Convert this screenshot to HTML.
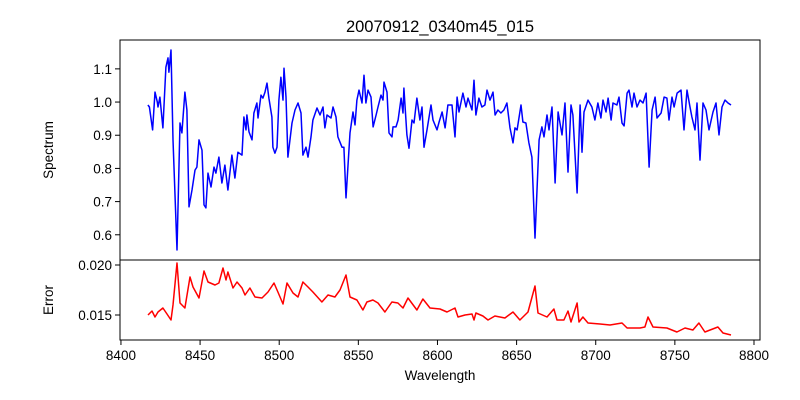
<!DOCTYPE html>
<html><head><meta charset="utf-8"><style>
body{margin:0;background:#fff}
svg{display:block;font-family:"Liberation Sans","DejaVu Sans",sans-serif}
</style></head><body>
<svg id="chart" width="800" height="400" viewBox="0 0 800 400">
<rect width="800" height="400" fill="#fff"/>
<text x="440" y="32" font-size="16.5" text-anchor="middle">20070912_0340m45_015</text>
<g id="topg"></g><g id="botg"></g>
<text x="440" y="380" font-size="13.5" text-anchor="middle">Wavelength</text>
<text transform="translate(53,150) rotate(-90)" font-size="13.5" text-anchor="middle">Spectrum</text>
<text transform="translate(53,300) rotate(-90)" font-size="13.5" text-anchor="middle">Error</text>
</svg>
<script>
const specWave=[8417,8418,8420,8421.5,8423,8423.4,8424.6,8426.5,8428.4,8429.7,8430.3,8431.6,8432.9,8435.4,8437.3,8438.5,8440.4,8441.7,8443,8444.9,8446.8,8448,8449.3,8451.2,8452.5,8453.7,8455,8456.9,8458.8,8460,8461.9,8463.8,8465.7,8467.6,8470.1,8472,8473.9,8476.5,8477.7,8479,8479.6,8480.9,8482.8,8484,8485.9,8486.6,8488.5,8489.7,8491,8492.3,8493.5,8495.4,8496,8497.3,8498.6,8499.8,8501.1,8502.4,8503,8504.3,8505.5,8508.1,8510,8511.9,8513.8,8515,8516.9,8518.2,8520.1,8521.3,8523.9,8525.8,8527.7,8528.9,8530.2,8532.7,8534,8535.9,8537.1,8539.7,8540.9,8542.2,8544.7,8546.6,8547.9,8549.1,8550.4,8552.3,8553.6,8554.8,8556.1,8558,8559.3,8561.2,8562.4,8564.3,8565.6,8566.2,8568.1,8569.4,8571.3,8571.9,8573.8,8575.1,8577,8578.2,8578.8,8580.7,8582,8583.9,8585.2,8587,8588.9,8590.2,8591.5,8593.4,8595.9,8597.2,8599.7,8601,8602.9,8604.8,8606.6,8609.2,8611.1,8612.4,8613.6,8616.1,8618,8619.3,8621.8,8623.1,8624.3,8626.2,8628.1,8630,8631.3,8633.2,8635.1,8636.4,8638.2,8640.1,8642,8643.9,8645.8,8647.7,8649,8650.3,8652.8,8654,8655.9,8657.8,8659.7,8661.6,8664.2,8666,8667.3,8669.2,8670.5,8672.4,8674.3,8676.2,8678.7,8680.6,8682.5,8684.4,8685.6,8688.2,8690.1,8691.3,8692.6,8695.1,8697.6,8699.5,8701.4,8703.3,8704.6,8706.5,8707.8,8709.7,8710.9,8713.4,8714.7,8716.6,8717.9,8719.8,8721,8722.9,8724.2,8726.1,8728,8729.9,8731.8,8733.7,8735.6,8737.5,8738.7,8741.3,8743.2,8745,8746.3,8748.2,8749.5,8751.4,8753.9,8755.8,8757.7,8759.6,8760.8,8762.7,8764,8765.9,8767.8,8769.7,8771.6,8774.1,8776,8777.9,8779.8,8781.7,8783.6,8785.5];
const specFlux=[0.991,0.985,0.916,1.030,1.000,0.985,1.015,0.922,1.105,1.133,1.090,1.157,0.886,0.554,0.937,0.907,1.030,0.976,0.684,0.735,0.795,0.804,0.886,0.855,0.690,0.681,0.786,0.744,0.804,0.786,0.834,0.756,0.810,0.735,0.840,0.771,0.849,0.840,0.955,0.916,0.961,0.910,0.886,0.967,0.997,0.952,1.021,1.012,1.030,1.057,1.012,0.955,0.864,0.846,0.864,1.006,1.075,1.006,1.102,1.015,0.834,0.937,0.976,0.997,0.967,0.840,0.864,0.834,0.895,0.946,0.982,0.961,0.985,0.922,0.961,0.952,0.985,0.955,0.895,0.864,0.864,0.711,0.907,0.970,0.931,1.006,1.036,0.997,1.081,0.997,1.036,1.015,0.925,0.961,0.985,1.021,1.006,1.060,1.030,0.907,0.895,0.925,0.925,0.946,1.012,0.967,1.042,0.901,0.861,0.946,0.937,1.012,0.946,0.985,0.864,0.916,0.991,0.946,0.916,0.940,0.970,0.922,0.991,0.991,0.895,1.015,0.970,1.027,0.985,1.012,0.976,1.066,0.961,1.012,0.985,0.991,1.036,1.006,1.030,0.961,0.976,0.967,0.976,0.997,0.922,0.877,0.922,0.916,0.991,0.940,0.937,0.877,0.834,0.590,0.886,0.925,0.895,0.961,0.916,0.985,0.756,0.970,0.901,0.997,0.789,0.991,0.961,0.726,0.991,0.849,0.970,1.006,0.985,0.946,0.997,0.952,1.006,0.970,1.012,0.946,0.997,0.991,1.015,0.937,0.928,1.027,1.036,0.985,1.027,0.985,1.006,0.997,1.027,0.804,0.976,1.015,0.952,0.967,1.015,1.012,0.946,1.015,0.985,1.027,1.036,0.916,1.036,0.985,0.955,0.916,0.997,0.825,0.997,0.976,0.916,0.970,0.997,0.901,0.985,1.006,0.997,0.991];
const errWave=[8417.1,8419.6,8421.5,8423.4,8426.5,8429.1,8431.6,8432.9,8435.4,8437.3,8440.4,8443.6,8445.5,8449.3,8452.5,8455,8459.4,8461.9,8464.5,8466.4,8467.6,8470.8,8473.3,8476.5,8478.4,8481.5,8484.7,8489.1,8492.9,8496.7,8499.2,8502.4,8504.9,8508.7,8511.9,8515,8518.2,8521.3,8527,8530.8,8535.2,8538.4,8542.2,8544.7,8549.1,8552.9,8555.4,8559.2,8562.4,8566.8,8571.2,8575,8578.2,8581.4,8587,8590.8,8595.3,8601.6,8606,8611.1,8613,8617.4,8621.8,8623.1,8624.3,8628.7,8631.9,8636.3,8642.6,8647.7,8652.1,8657.2,8661.6,8663.5,8669.2,8673.6,8675.5,8679.9,8682.5,8684.4,8688.2,8689.4,8691.9,8695.1,8702.7,8709,8716.6,8719.8,8728,8731.1,8733,8736.2,8745,8751.3,8756.4,8761.4,8765.2,8769,8777.2,8780.4,8785.5];
const errVal=[0.0150,0.0154,0.0148,0.0153,0.0157,0.0151,0.0145,0.0160,0.0202,0.0162,0.0157,0.0188,0.0178,0.0167,0.0194,0.0183,0.0180,0.0182,0.0197,0.0185,0.0193,0.0177,0.0183,0.0177,0.0170,0.0177,0.0168,0.0167,0.0173,0.0182,0.0173,0.0161,0.0182,0.0172,0.0168,0.0183,0.0178,0.0173,0.0163,0.0170,0.0168,0.0175,0.0190,0.0168,0.0165,0.0155,0.0163,0.0165,0.0162,0.0153,0.0163,0.0162,0.0157,0.0167,0.0155,0.0166,0.0157,0.0156,0.0153,0.0157,0.0148,0.0150,0.0151,0.0145,0.0152,0.0149,0.0145,0.0149,0.0147,0.0153,0.0145,0.0153,0.0179,0.0152,0.0148,0.0156,0.0145,0.0145,0.0154,0.0143,0.0162,0.0143,0.0148,0.0142,0.0141,0.0140,0.0142,0.0137,0.0137,0.0138,0.0148,0.0138,0.0137,0.0133,0.0137,0.0135,0.0142,0.0133,0.0138,0.0132,0.0130];
const xTicks=[8400,8450,8500,8550,8600,8650,8700,8750,8800];
const specTicks=[0.6,0.7,0.8,0.9,1.0,1.1];
const errTicks=[0.015,0.020];

const NS="http://www.w3.org/2000/svg";
const L=120,R=760;
const xMin=8399.4,xMax=8803.8;
const X=w=>L+(w-xMin)/(xMax-xMin)*(R-L);
const yS=v=>260-(v-0.524)/(1.187-0.524)*220;
const yE=v=>340-(v-0.0125)/(0.0205-0.0125)*80;
function mk(tag,attrs,parent){const e=document.createElementNS(NS,tag);for(const k in attrs)e.setAttribute(k,attrs[k]);parent.appendChild(e);return e;}
const gTop=document.getElementById('topg'),gBot=document.getElementById('botg');
function pathOf(xs,ys,fy){const n=Math.min(xs.length,ys.length);let s='';for(let i=0;i<n;i++){s+=(i?'L':'M')+X(xs[i]).toFixed(1)+','+fy(ys[i]).toFixed(1);}return s;}

const sp=mk('path',{d:pathOf(specWave,specFlux,yS),fill:'none',stroke:'#0000ff','stroke-width':1.5,'stroke-linejoin':'round'},gTop);


const ep=mk('path',{d:pathOf(errWave,errVal,yE),fill:'none',stroke:'#ff0000','stroke-width':1.5,'stroke-linejoin':'round'},gBot);



const f1=mk('rect',{x:L,y:40,width:R-L,height:220,fill:'none',stroke:'#000','stroke-width':1},gTop);


const f2=mk('rect',{x:L,y:260,width:R-L,height:80,fill:'none',stroke:'#000','stroke-width':1},gBot);



specTicks.forEach(v=>{const y=yS(v);
 mk('line',{x1:L-5,x2:L,y1:y,y2:y,stroke:'#000'},gTop);
 const t=mk('text',{x:L-8,y:y+5,'font-size':13.5,'text-anchor':'end'},gTop);
 
 
 t.textContent=v.toFixed(1);});
errTicks.forEach(v=>{const y=yE(v);
 mk('line',{x1:L-5,x2:L,y1:y,y2:y,stroke:'#000'},gBot);
 const t=mk('text',{x:L-8,y:y+5,'font-size':13.5,'text-anchor':'end'},gBot);
 
 
 t.textContent=v.toFixed(3);});
xTicks.forEach(v=>{const x=X(v);
 mk('line',{x1:x,x2:x,y1:340,y2:345,stroke:'#000'},gBot);
 const t=mk('text',{x:x,y:360,'font-size':13.5,'text-anchor':'middle'},gBot);
 
 
 t.textContent=v;});
</script>
</body></html>
